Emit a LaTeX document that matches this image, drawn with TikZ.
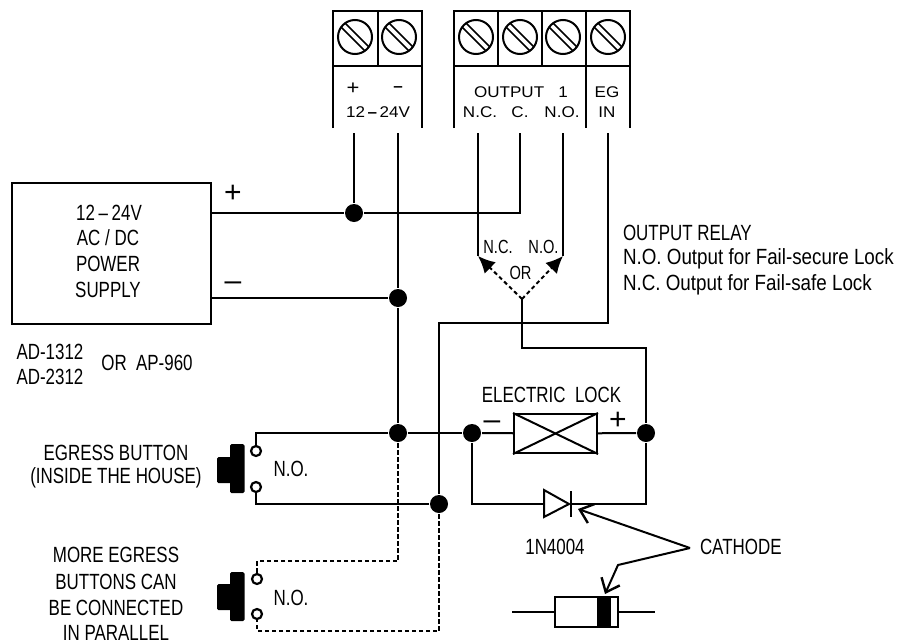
\documentclass[tikz,border=0pt]{standalone}
\usepackage{fontspec}
\setmainfont[Ligatures=TeX]{Liberation Sans}
\newfontfamily\narrowfont[FakeStretch=0.77,Ligatures=TeX]{Liberation Sans}
\newfontfamily\mixedfont[FakeStretch=0.855,Ligatures=TeX]{Liberation Sans}
\newfontfamily\wideFont[FakeStretch=1.1,Ligatures=TeX]{Liberation Sans}
\usetikzlibrary{calc,arrows.meta}

\begin{document}
\begin{tikzpicture}[x=1pt,y=-1pt,line width=2pt,
    every node/.style={inner sep=0pt},
    lbl/.style={font=\narrowfont\fontsize{22}{26}\selectfont},
    relaylbl/.style={font=\mixedfont\fontsize{22}{26}\selectfont},
    smalllbl/.style={font=\narrowfont\fontsize{19}{22}\selectfont},
    termlbl/.style={font=\wideFont\fontsize{15.5}{18}\selectfont},
    signlbl/.style={font=\fontsize{30}{30}\selectfont},
    dot/.style={circle,fill=black,minimum size=18pt},
    contact/.style={circle,draw,fill=white,minimum size=10pt,line width=2.2pt},
    screwhead/.style={circle,draw,minimum size=34pt},
    dashedwire/.style={dash pattern=on 4.5pt off 2.5pt},
    openarrow/.style={-{Straight Barb[length=12pt,width=20pt,line width=2.4pt]}},
    solidarrow/.style={-{Latex[length=17pt,width=16pt]},dash pattern=on 4pt off 3pt}]
    \useasboundingbox (0,0) rectangle (899,640);

    % terminal blocks
    \draw (333,128) -- (333,11) -- (422,11) -- (422,128);
    \draw (333,66) -- (422,66);
    \draw (378,11) -- (378,66);
    \draw (454,128) -- (454,11) -- (630,11) -- (630,128);
    \draw (454,66) -- (630,66);
    \draw (498,11) -- (498,66);
    \draw (542,11) -- (542,66);
    \draw (586,11) -- (586,128);

    \foreach \name/\xpos in {scrP/355,scrM/399,scrNC/476,scrC/520,scrNO/563,scrEG/608}
    {
        \node[screwhead] (\name) at (\xpos,37) {};
        \draw[line width=1.6pt] ($(\name)+(-9.5,-13.5)$) -- ($(\name)+(13.5,9.5)$);
        \draw[line width=1.6pt] ($(\name)+(-13.5,-9.5)$) -- ($(\name)+(9.5,13.5)$);
    }

    \node[termlbl,font=\wideFont\fontsize{20}{20}\selectfont] at (353,89) {+};
    \node[termlbl] at (398,89) {\textbf{--}};
    \node[termlbl] (lblV) at (378,112.5) {12\,\textbf{--}\,24V};
    \node[termlbl] at (521,92) {OUTPUT\ \ \ 1};
    \node[termlbl] at (480,112.5) {N.C.};
    \node[termlbl] at (520,112.5) {C.};
    \node[termlbl] at (562,112.5) {N.O.};
    \node[termlbl] at (607,92) {EG};
    \node[termlbl] at (607,112.5) {IN};

    \coordinate (pinP) at (354,133);
    \coordinate (pinM) at (398,133);
    \coordinate (pinNC) at (478,133);
    \coordinate (pinC) at (520,133);
    \coordinate (pinNO) at (563,133);
    \coordinate (pinEG) at (608,133);

    % power supply
    \node[draw,minimum width=199pt,minimum height=141pt] (psu) at (111.5,253.5) {};
    \node[lbl] at (109,213) {12\,--\,24V};
    \node[lbl] at (108,238) {AC / DC};
    \node[lbl] at (108,264) {POWER};
    \node[lbl] at (108,290) {SUPPLY};
    \node[signlbl] at (233,194) {+};
    \node[signlbl] at (233,286) {--};
    \node[lbl] at (50,352) {AD-1312};
    \node[lbl] at (50,377) {AD-2312};
    \node[lbl] at (147,363) {OR\ \ AP-960};

    % junctions
    \node[dot] (dotPlus) at (354,213) {};
    \node[dot] (dotMinus) at (398,298) {};
    \node[dot] (dotBtn) at (398,433) {};
    \node[dot] (dotEg) at (439,504) {};
    \node[dot] (dotLockL) at (472,433) {};
    \node[dot] (dotLockR) at (646,433) {};

    \coordinate (psuPlus) at (211,213);
    \coordinate (psuMinus) at (211,298);
    \coordinate (relayNC) at (478,256);
    \coordinate (relayNO) at (563,256);
    \coordinate (relayCom) at (522,299);
    \coordinate (egBend) at (439,323);
    \coordinate (lockFeed) at (646,348);

    \draw (pinP) -- (dotPlus);
    \draw (pinM) -- (dotMinus);
    \draw (dotMinus) -- (dotBtn);
    \draw (psuPlus) -- (dotPlus);
    \draw (dotPlus) -| (pinC);
    \draw (psuMinus) -- (dotMinus);
    \draw (pinNC) -- (relayNC);
    \draw (pinNO) -- (relayNO);
    \draw (pinEG) |- (egBend) -- (dotEg);

    % relay choice
    \draw[solidarrow] (relayCom) -- (relayNC);
    \draw[solidarrow] (relayCom) -- (relayNO);
    \draw (relayCom) |- (lockFeed) -- (dotLockR);
    \node[smalllbl] at (498,247) {N.C.};
    \node[smalllbl] at (543.5,247) {N.O.};
    \node[smalllbl] at (520.5,273) {OR};
    \node[lbl,anchor=west] at (622,233) {OUTPUT RELAY};
    \node[relaylbl,anchor=west] at (622,259) {N.O. Output for Fail-secure Lock};
    \node[relaylbl,anchor=west] at (622,285) {N.C. Output for Fail-safe Lock};

    % lock
    \node[draw,minimum width=83pt,minimum height=39pt] (lock) at (555.5,433.5) {};
    \draw (lock.north west) -- (lock.south east);
    \draw (lock.south west) -- (lock.north east);
    \draw (dotBtn) -- (dotLockL);
    \draw (dotLockL) -- (lock);
    \draw (lock) -- (dotLockR);
    \node[lbl] at (551.5,395) {ELECTRIC\ \ LOCK};
    \node[signlbl] at (492,429) {\smash{--}};
    \node[signlbl] at (618,421) {+};

    % diode
    \coordinate (diodeIn) at (544,504);
    \coordinate (diodeOut) at (571,504);
    \draw (dotLockL) |- (diodeIn);
    \draw (544,490) -- (569,504) -- (544,517) -- cycle;
    \draw (571,491) -- (571,517);
    \draw (diodeOut) -| (dotLockR);
    \node[lbl] at (555,547) {1N4004};

    % cathode pointers
    \node[lbl,anchor=west] (cathode) at (699,547) {CATHODE};
    \coordinate (apex) at (690,548);
    \coordinate (cathodeTop) at (578,509);
    \coordinate (cathodeBend) at (618,565);
    \coordinate (cathodeLow) at (605,594);
    \draw[openarrow] (apex) -- (cathodeTop);
    \draw[openarrow] (apex) -- (cathodeBend) -- (cathodeLow);

    \node[draw,minimum width=63pt,minimum height=30pt] (body) at (586.5,612) {};
    \node[fill=black,minimum width=14pt,minimum height=30pt] at (604,612) {};
    \coordinate (leadL) at (512,612);
    \coordinate (leadR) at (655,612);
    \draw (leadL) -- (body);
    \draw (body) -- (leadR);

    % egress buttons
    \fill[rounded corners=1.5pt] (217,457) rectangle (232,483);
    \fill[rounded corners=1.5pt] (230,444) rectangle (244.5,493);
    \fill[rounded corners=1.5pt] (217,584) rectangle (232,610);
    \fill[rounded corners=1.5pt] (230,572) rectangle (244.5,621);

    \node[contact] (btnA) at (256,451) {};
    \node[contact] (btnB) at (256,487) {};
    \node[contact] (moreA) at (257,579) {};
    \node[contact] (moreB) at (257,614) {};
    \coordinate (moreBendA) at (398,561);
    \coordinate (moreBendB) at (439,631);
    \draw (dotBtn) -| (btnA);
    \draw (dotEg) -| (btnB);
    \draw[dashedwire] (dotBtn) -- (moreBendA) -| (moreA);
    \draw[dashedwire] (dotEg) -- (moreBendB) -| (moreB);
    \node[lbl] at (116,453) {EGRESS BUTTON};
    \node[lbl] at (116,478) {(INSIDE THE HOUSE)};
    \node[lbl] at (291,469) {N.O.};
    \node[lbl] at (291,598) {N.O.};
    \node[lbl] at (116,555) {MORE EGRESS};
    \node[lbl] at (116,582) {BUTTONS CAN};
    \node[lbl] at (116,608) {BE CONNECTED};
    \node[lbl] at (116,633) {IN PARALLEL};
\end{tikzpicture}
\end{document}
